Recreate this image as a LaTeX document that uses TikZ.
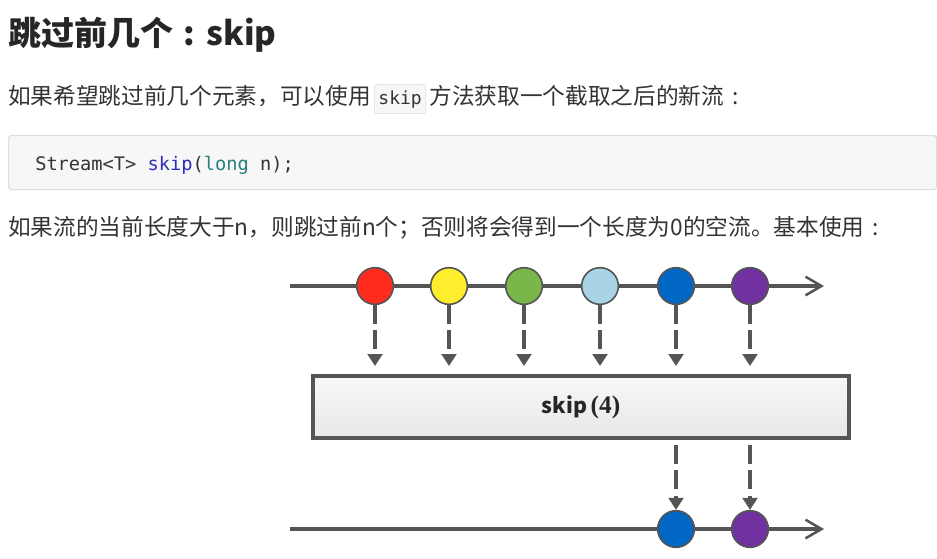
\documentclass[tikz,border=0pt]{standalone}
\usepackage{fontspec}
\setmainfont{Noto Sans CJK SC}
\setmonofont{DejaVu Sans Mono}
\newfontfamily\numfont{Liberation Serif}
\usetikzlibrary{arrows.meta,calc,positioning}
\definecolor{ink}{HTML}{333333}
\definecolor{headink}{HTML}{262626}
\definecolor{linegray}{HTML}{555555}
\definecolor{codebg}{HTML}{F7F7F7}
\definecolor{codeline}{HTML}{DDDDDD}
\definecolor{kwblue}{HTML}{2E2EB8}
\definecolor{kwteal}{HTML}{2A7F7F}
\definecolor{mred}{HTML}{FF2B1E}
\definecolor{myellow}{HTML}{FFEE2E}
\definecolor{mgreen}{HTML}{79B74A}
\definecolor{mlight}{HTML}{A9D4E6}
\definecolor{mblue}{HTML}{0068C4}
\definecolor{mpurple}{HTML}{7131A0}
\newcommand{\fwcolon}{\makebox[1em][c]{:}}
\tikzset{
  txt/.style={inner sep=0pt,anchor=base west,text=ink,font=\fontsize{17}{20}\selectfont},
  inlinecode/.style={draw=codeline,fill=codebg,rounded corners=2pt,inner xsep=3pt,
    inner ysep=0pt,minimum height=22pt,anchor=base west,text=ink,font=\ttfamily\fontsize{13.5}{16}\selectfont},
  marble/.style={circle,draw=linegray,line width=1.2pt,minimum size=27.5pt,inner sep=0pt},
  timeline/.style={draw=linegray,line width=2.5pt,-{Straight Barb[length=12pt,width=14pt,line width=1.9pt]}},
  emit/.style={draw=linegray,line width=2.6pt,dash pattern=on 14pt off 5pt,
    -{Triangle[length=9pt,width=11pt]}},
  opbox/.style={draw=linegray,line width=3pt,top color=white!97!black,bottom color=black!9,
    minimum width=402pt,minimum height=46.5pt,font=\fontsize{16}{19}\bfseries,text=black!85}
}

\begin{document}
\begin{tikzpicture}[x=0.75pt,y=-0.75pt]
  \useasboundingbox (0,0) rectangle (937,558);
  % heading and text
  \node[txt,font=\fontsize{24.75}{30}\bfseries\selectfont,text=headink] (title) at (8,45) {跳过前几个\fwcolon skip};
  \node[txt] (p1) at (8,104) {如果希望跳过前几个元素，可以使用};
  \node[inlinecode] (kw) at ($(p1.base east)+(3,0)$) {skip};
  \node[txt] (p2) at ($(kw.base east)+(3,0)$) {方法获取一个截取之后的新流\fwcolon};

  \node[draw=codeline,fill=codebg,rounded corners=2pt,line width=0.9pt,anchor=north west,
    minimum width=696pt,minimum height=40.5pt] (codebox) at (8,135) {};
  \node[txt,font=\ttfamily\fontsize{14}{16}\selectfont] (sig) at (35,170)
    {Stream<T> \textcolor{kwblue}{skip}(\textcolor{kwteal}{long} n);};

  \node[txt] (p3) at (8,235) {如果流的当前长度大于n，则跳过前n个；否则将会得到一个长度为0的空流。基本使用\fwcolon};

  % upstream
  \coordinate (tl) at (290,286);
  \coordinate (tr) at (824,286);
  \draw[timeline] (tl) -- (tr);
  \foreach \x/\c [count=\i] in {375/mred,449/myellow,524/mgreen,600/mlight,676/mblue,750/mpurple}
    \node[marble,fill=\c] (m\i) at (\x,286) {};

  % operator
  \node[opbox] (op) at (581,407) {skip\,{\numfont\fontsize{19}{20}\selectfont\bfseries(4)}};
  \foreach \i in {1,...,6}
    \draw[emit] (m\i.south) -- ($(m\i.center |- op.north)+(0,-8)$);

  % downstream
  \coordinate (bl) at (290,529);
  \coordinate (br) at (824,529);
  \draw[timeline] (bl) -- (br);
  \node[marble,fill=mblue] (b5) at (676,529) {};
  \node[marble,fill=mpurple] (b6) at (750,529) {};
  \draw[emit] ($(b5.center |- op.south)+(0,5)$) -- (b5.north);
  \draw[emit] ($(b6.center |- op.south)+(0,5)$) -- (b6.north);
\end{tikzpicture}
\end{document}
